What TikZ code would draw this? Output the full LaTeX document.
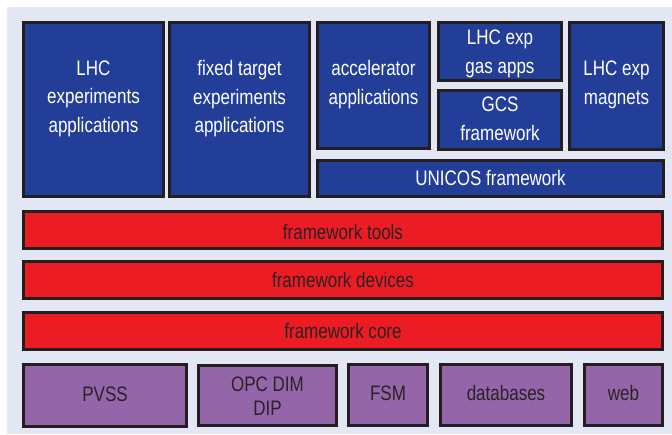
\documentclass[tikz,border=0pt]{standalone}
\usepackage{fontspec}
\setmainfont{Liberation Sans}[FakeStretch=0.81]
\definecolor{bgc}{HTML}{E3E7F3}
\definecolor{bluec}{HTML}{233E98}
\definecolor{redc}{HTML}{EC1C24}
\definecolor{purc}{HTML}{9565A9}
\definecolor{edgec}{HTML}{231F20}
\definecolor{darktext}{HTML}{2A2226}
\begin{document}
\begin{tikzpicture}[x=1pt,y=-1pt,
  box/.style={draw=edgec,line width=3pt,inner sep=0pt},
  bluebox/.style={box,fill=bluec},
  redbox/.style={box,fill=redc},
  purbox/.style={box,fill=purc},
  wtxt/.style={anchor=base,inner sep=0pt,text=white,font=\fontsize{21}{25}\selectfont},
  dtxt/.style={anchor=base,inner sep=0pt,text=darktext,font=\fontsize{21}{25}\selectfont}]
\useasboundingbox (0,0) rectangle (672,434);
\fill[white] (0,0) rectangle (672,434);
\fill[bgc] (7,7) rectangle (672,434);
% boxes: outer bounds, inset by half line width
\newcommand{\mybox}[6]{\draw[#1] (#3+1.5,#4+1.5) rectangle (#5-1.5,#6-1.5) node[midway,name=#2]{};}
\mybox{bluebox}{lhcapps}{22}{21}{165}{198}
\mybox{bluebox}{fixed}{168}{21}{311}{198}
\mybox{bluebox}{accel}{316}{21}{431}{150}
\mybox{bluebox}{gas}{437}{21}{563}{82}
\mybox{bluebox}{gcs}{437}{89}{563}{151}
\mybox{bluebox}{magnets}{568}{21}{665}{151}
\mybox{bluebox}{unicos}{316}{159}{665}{198}
\mybox{redbox}{tools}{22}{210}{664}{250}
\mybox{redbox}{devices}{22}{260}{664}{300}
\mybox{redbox}{core}{22}{311}{664}{351}
\mybox{purbox}{pvss}{22}{363}{188}{428}
\mybox{purbox}{opc}{197}{364}{338}{427}
\mybox{purbox}{fsm}{347}{363}{429}{427}
\mybox{purbox}{dbs}{439}{363}{573}{427}
\mybox{purbox}{web}{583}{363}{664}{427}
% labels
\node[wtxt] (a1) at (93.5,75) {LHC};
\node[wtxt] (a2) at (93.5,103.7) {experiments};
\node[wtxt] (a3) at (93.5,132.4) {applications};
\node[wtxt] (b1) at (239.5,75) {fixed target};
\node[wtxt] (b2) at (239.5,104) {experiments};
\node[wtxt] (b3) at (239.5,132.7) {applications};
\node[wtxt] (c1) at (373.5,75) {accelerator};
\node[wtxt] (c2) at (373.5,104) {applications};
\node[wtxt] (d1) at (500,44.3) {LHC exp};
\node[wtxt] (d2) at (500,73.3) {gas apps};
\node[wtxt] (e1) at (500,111.7) {GCS};
\node[wtxt] (e2) at (500,140.7) {framework};
\node[wtxt] (f1) at (616.5,75) {LHC exp};
\node[wtxt] (f2) at (616.5,104) {magnets};
\node[wtxt] (g1) at (490.5,185.7) {UNICOS framework};
\node[dtxt] (t1) at (343,239) {framework tools};
\node[dtxt] (t2) at (343,287.3) {framework devices};
\node[dtxt] (t3) at (343,338.3) {framework core};
\node[dtxt] (p1) at (105,401) {PVSS};
\node[dtxt] (p2) at (267.5,391.7) {OPC DIM};
\node[dtxt] (p3) at (267.5,415.7) {DIP};
\node[dtxt] (p4) at (388,400) {FSM};
\node[dtxt] (p5) at (506,400) {databases};
\node[dtxt] (p6) at (623.5,400) {web};
\end{tikzpicture}
\end{document}
